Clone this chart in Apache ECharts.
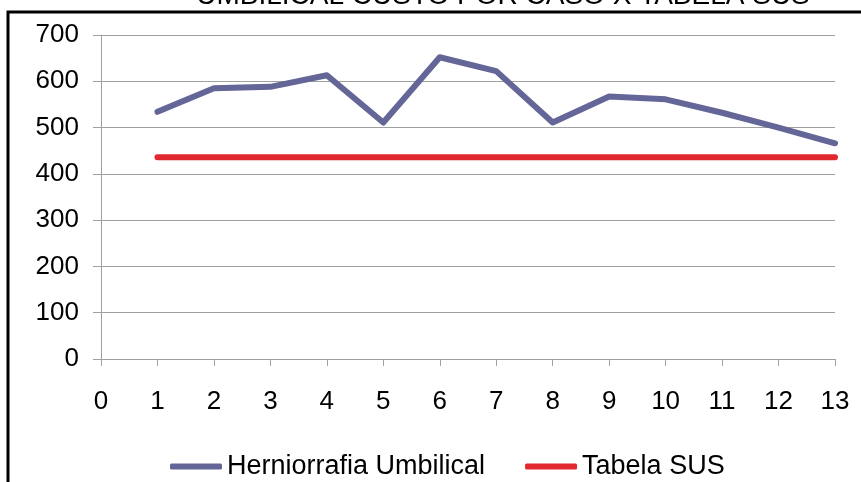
<!DOCTYPE html>
<html>
<head>
<meta charset="utf-8">
<script src="https://cdn.jsdelivr.net/npm/echarts@6/dist/echarts.min.js"></script>
<style>
  html, body { margin: 0; padding: 0; background: #fff; }
  #chart { width: 861px; height: 482px; }
</style>
</head>
<body>
<div id="chart"></div>
<script>
// dados
var casos = [1, 2, 3, 4, 5, 6, 7, 8, 9, 10, 11, 12, 13]
var herniorrafia = [534, 585, 588, 613, 511, 652, 622, 511, 567, 561, 532, 500, 466]
var tabelaSus = [436, 436, 436, 436, 436, 436, 436, 436, 436, 436, 436, 436, 436]
var tituloTexto = 'UMBILICAL CUSTO POR CASO X TABELA SUS'

var font = 'Liberation Sans, Arial, sans-serif'

function pares (xs, ys) {
  var out = []
  for (var i = 0; i < xs.length; i++) {
    out.push([xs[i], ys[i]])
  }
  return out
}

var chart = echarts.init(document.getElementById('chart'))
var option = {
  animation: false,
  backgroundColor: '#fff',
  grid: {
    left: 101,
    right: 26,
    top: 35,
    bottom: 123
  },
  xAxis: {
    type: 'value',
    min: 0,
    max: 13,
    interval: 1,
    axisLine: { show: true, lineStyle: { color: '#a0a0a0', width: 1 } },
    axisTick: { show: true, length: 7, lineStyle: { color: '#a0a0a0' } },
    axisLabel: { color: '#000', fontSize: 26, fontFamily: font, margin: 30 },
    splitLine: { show: false }
  },
  yAxis: {
    type: 'value',
    min: 0,
    max: 700,
    interval: 100,
    axisLine: { show: true, lineStyle: { color: '#a0a0a0', width: 1 } },
    axisTick: { show: true, length: 8, lineStyle: { color: '#a0a0a0' } },
    axisLabel: { color: '#000', fontSize: 26, fontFamily: font, margin: 22 },
    splitLine: { show: true, lineStyle: { color: '#a0a0a0', width: 1 } }
  },
  legend: {
    bottom: -3,
    left: 165,
    itemWidth: 52,
    itemHeight: 6,
    itemGap: 40,
    icon: 'roundRect',
    textStyle: { color: '#000', fontSize: 27, fontFamily: font },
    data: ['Herniorrafia Umbilical', 'Tabela SUS']
  },
  graphic: [
    {
      type: 'rect',
      shape: { x: 8, y: 12, width: 900, height: 520 },
      style: { fill: 'none', stroke: '#000', lineWidth: 3 },
      silent: true
    },
    {
      type: 'text',
      style: {
        text: tituloTexto,
        x: 503,
        y: 10,
        textAlign: 'center',
        textVerticalAlign: 'bottom',
        font: '28px ' + font,
        fill: '#000'
      },
      silent: true
    }
  ],
  series: [
    {
      name: 'Herniorrafia Umbilical',
      type: 'line',
      data: pares(casos, herniorrafia),
      showSymbol: false,
      symbol: 'none',
      lineStyle: { color: '#646698', width: 6, cap: 'round', join: 'round' },
      itemStyle: { color: '#646698' }
    },
    {
      name: 'Tabela SUS',
      type: 'line',
      data: pares(casos, tabelaSus),
      showSymbol: false,
      symbol: 'none',
      lineStyle: { color: '#e0282e', width: 6, cap: 'round' },
      itemStyle: { color: '#e0282e' }
    }
  ]
}
chart.setOption(option)
</script>
</body>
</html>
